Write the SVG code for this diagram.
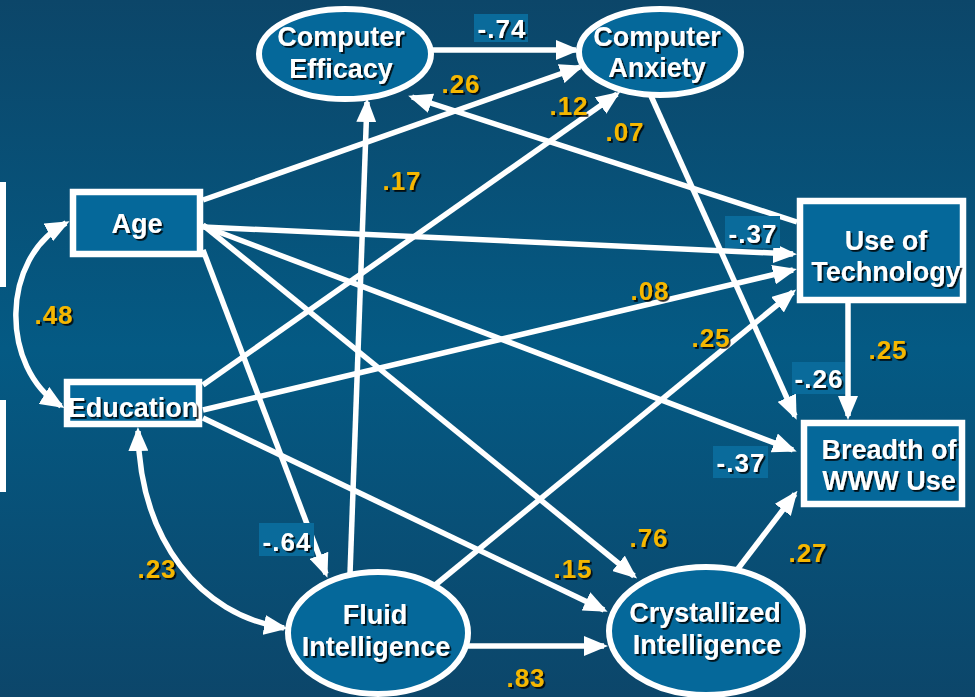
<svg xmlns="http://www.w3.org/2000/svg" width="975" height="697" viewBox="0 0 975 697">
<defs>
<linearGradient id="bg" x1="0" y1="0" x2="0" y2="1">
<stop offset="0" stop-color="#0c4669"/>
<stop offset="0.5" stop-color="#045a84"/>
<stop offset="1" stop-color="#0c466a"/>
</linearGradient>
<marker id="ah" viewBox="0 0 24 20" refX="20" refY="10" markerWidth="24" markerHeight="20" markerUnits="userSpaceOnUse" orient="auto-start-reverse">
<path d="M0,0 L24,10 L0,20 z" fill="#fff"/>
</marker>
<filter id="sh" x="-10%" y="-20%" width="130%" height="150%">
<feDropShadow dx="1.8" dy="1.8" stdDeviation="0.4" flood-color="#000" flood-opacity="0.85"/>
</filter>
</defs>
<style>
.node{fill:#05689a;stroke:#fff;stroke-width:6}
.box{fill:#05689a;stroke:#fff;stroke-width:6.5}
.nt{font-family:"Liberation Sans",Arial,sans-serif;font-weight:bold;font-size:27px;fill:#fff;text-anchor:middle;filter:url(#sh)}
.c{fill:none;stroke:#fff;stroke-width:5.5;marker-end:url(#ah)}
.d{fill:none;stroke:#fff;stroke-width:5.5;marker-start:url(#ah);marker-end:url(#ah)}
.y{font-family:"Liberation Sans",Arial,sans-serif;font-weight:bold;font-size:26px;letter-spacing:1px;fill:#f5b700;text-anchor:middle;filter:url(#sh)}
.w{font-family:"Liberation Sans",Arial,sans-serif;font-weight:bold;font-size:26px;letter-spacing:1px;fill:#fff;text-anchor:middle;filter:url(#sh)}
.lb{fill:#0a6b9b}
</style>
<rect width="975" height="697" fill="url(#bg)"/>
<rect x="0" y="182" width="6" height="105" fill="#fff"/>
<rect x="0" y="400" width="6" height="92" fill="#fff"/>

<g id="connectors">
<path class="c" d="M432,50 L576,50"/>
<path class="c" d="M203,200 L580,67"/>
<path class="c" d="M797,222 L412,97"/>
<path class="c" d="M203,385 L617,94"/>
<path class="c" d="M350,574 L367,102"/>
<path class="c" d="M651,96 L795,416"/>
<path class="c" d="M203,227 L793,254"/>
<path class="c" d="M203,410 L793,270"/>
<path class="c" d="M434,586 L793,292"/>
<path class="c" d="M848,303 L848,416"/>
<path class="c" d="M203,226 L793,450"/>
<path class="c" d="M203,225 L634,576"/>
<path class="c" d="M203,250 L326,574"/>
<path class="c" d="M203,418 L604,610"/>
<path class="c" d="M468,646 L604,646"/>
<path class="c" d="M737,570 L795,494"/>
<path class="d" d="M66,223 C0,258 0,368 61,406"/>
<path class="d" d="M138,431 C140,540 200,615 284,628"/>
</g>

<g id="computer-efficacy">
<ellipse class="node" cx="345" cy="54" rx="86" ry="45"/>
<text class="nt" x="341" y="46">Computer</text>
<text class="nt" x="341" y="78">Efficacy</text>
</g>
<g id="computer-anxiety">
<ellipse class="node" cx="660" cy="52" rx="81" ry="43"/>
<text class="nt" x="657" y="46">Computer</text>
<text class="nt" x="657" y="77">Anxiety</text>
</g>
<g id="age">
<rect class="box" x="73" y="192" width="127" height="62"/>
<text class="nt" x="137" y="233">Age</text>
</g>
<g id="education">
<rect class="box" x="67" y="382" width="132" height="42"/>
<text class="nt" x="133" y="417">Education</text>
</g>
<g id="use-of-technology">
<rect class="box" x="800" y="201" width="163" height="99"/>
<text class="nt" x="886" y="250">Use of</text>
<text class="nt" x="886" y="281">Technology</text>
</g>
<g id="breadth-of-www-use">
<rect class="box" x="804" y="423" width="158" height="81"/>
<text class="nt" x="889" y="459">Breadth of</text>
<text class="nt" x="889" y="490">WWW Use</text>
</g>
<g id="fluid-intelligence">
<ellipse class="node" cx="378" cy="633" rx="90" ry="61"/>
<text class="nt" x="375" y="624">Fluid</text>
<text class="nt" x="376" y="656">Intelligence</text>
</g>
<g id="crystallized-intelligence">
<ellipse class="node" cx="706" cy="631" rx="97" ry="64"/>
<text class="nt" x="705" y="622">Crystallized</text>
<text class="nt" x="707" y="654">Intelligence</text>
</g>

<g id="labels">
<rect class="lb" x="474" y="14" width="54" height="28"/>
<text class="w" x="502" y="38">-.74</text>
<text class="y" x="461" y="93">.26</text>
<text class="y" x="569" y="115">.12</text>
<text class="y" x="625" y="141">.07</text>
<text class="y" x="402" y="190">.17</text>
<rect class="lb" x="725" y="216" width="55" height="32"/>
<text class="w" x="753" y="243">-.37</text>
<text class="y" x="650" y="300">.08</text>
<text class="y" x="711" y="347">.25</text>
<text class="y" x="888" y="359">.25</text>
<rect class="lb" x="792" y="362" width="53" height="32"/>
<text class="w" x="819" y="388">-.26</text>
<rect class="lb" x="713" y="446" width="55" height="32"/>
<text class="w" x="741" y="472">-.37</text>
<text class="y" x="54" y="324">.48</text>
<rect class="lb" x="259" y="523" width="55" height="33"/>
<text class="w" x="287" y="551">-.64</text>
<text class="y" x="157" y="578">.23</text>
<text class="y" x="649" y="547">.76</text>
<text class="y" x="573" y="578">.15</text>
<text class="y" x="808" y="562">.27</text>
<text class="y" x="526" y="687">.83</text>
</g>
</svg>
